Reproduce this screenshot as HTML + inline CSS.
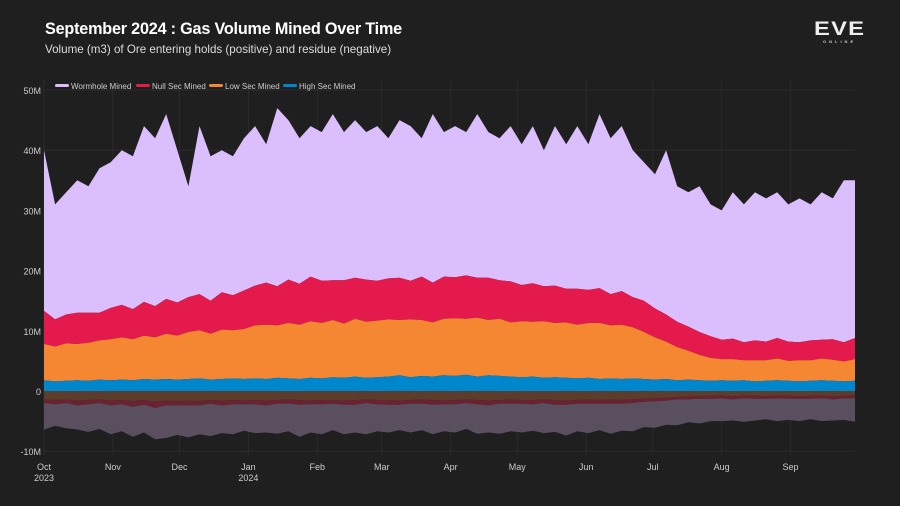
<!DOCTYPE html>
<html><head><meta charset="utf-8"><style>
html,body{margin:0;padding:0;background:#1f1f1f;}
body{width:900px;height:506px;overflow:hidden;font-family:"Liberation Sans",sans-serif;position:relative;}
#title{position:absolute;left:45px;top:20px;color:#fff;font-size:16.2px;font-weight:bold;letter-spacing:-0.2px;}
#sub{position:absolute;left:45px;top:43px;color:#ddd;font-size:11.6px;}
#logo{position:absolute;left:814px;top:19px;color:#eee;font-size:19px;font-weight:bold;letter-spacing:1px;transform:scaleX(1.25);transform-origin:left;}
#logo2{position:absolute;left:823px;top:39px;color:#ccc;font-size:4px;letter-spacing:3px;font-weight:bold;}
svg{position:absolute;left:0;top:0;}
</style></head><body>
<div id="title">September 2024 : Gas Volume Mined Over Time</div>
<div id="sub">Volume (m3) of Ore entering holds (positive) and residue (negative)</div>
<div id="logo">EVE</div>
<div id="logo2">ONLINE</div>
<svg id="chart" width="900" height="506"></svg>
<script>
const highSec=[1.8,1.6,1.7,1.8,1.7,1.9,1.8,1.9,1.8,2.0,1.9,2.0,1.9,2.0,2.1,1.9,2.0,2.1,2.0,2.1,2.0,2.2,2.1,2.0,2.2,2.1,2.3,2.2,2.4,2.2,2.3,2.4,2.6,2.3,2.5,2.4,2.6,2.5,2.7,2.4,2.6,2.5,2.4,2.3,2.4,2.2,2.3,2.2,2.1,2.2,2.0,2.1,2.0,2.1,2.0,1.9,2.0,1.8,1.9,1.8,1.7,1.8,1.7,1.8,1.6,1.7,1.8,1.7,1.6,1.7,1.8,1.7,1.6,1.7];
const lowSec=[6.0,5.8,6.2,6.0,6.3,6.5,6.8,7.0,6.8,7.2,7.0,7.5,7.3,7.8,8.0,7.6,8.2,8.0,8.3,8.8,9.0,8.7,9.2,9.0,9.4,9.2,9.5,9.0,9.6,9.3,9.4,9.5,9.2,9.6,9.3,9.0,9.4,9.6,9.3,9.8,9.2,9.5,9.0,9.3,9.1,9.4,9.0,9.2,8.9,9.1,9.3,8.8,9.0,8.5,7.8,7.0,6.2,5.5,4.8,4.2,3.8,3.5,3.6,3.3,3.5,3.4,3.6,3.3,3.5,3.4,3.6,3.5,3.3,3.6];
const nullSec=[5.5,4.5,4.8,5.2,5.0,4.6,5.2,5.4,5.0,5.6,5.2,5.8,5.5,5.8,6.0,5.5,6.2,5.8,6.4,6.6,7.0,6.5,7.2,6.8,7.4,7.0,6.6,7.2,6.8,7.0,6.6,6.8,7.0,6.4,7.2,6.6,7.0,6.8,7.2,6.6,7.0,6.4,6.8,6.0,6.4,5.8,6.2,5.6,6.0,5.5,5.8,5.2,5.6,5.0,5.2,4.8,4.5,4.2,4.0,3.8,3.6,3.2,3.4,3.0,3.3,3.1,3.4,3.2,3.0,3.3,3.1,3.4,3.2,3.5];
const wormhole=[26.7,19.1,20.3,22.0,21.0,24.0,24.2,25.7,25.4,29.2,27.9,30.7,25.3,18.4,27.9,24.0,23.6,23.1,25.3,26.5,23.0,29.6,26.5,24.2,25.0,24.7,27.6,24.6,26.2,24.5,25.7,23.3,26.2,25.7,23.0,28.0,24.0,25.1,23.8,27.2,24.2,23.6,25.8,23.4,26.1,22.6,26.5,24.0,27.0,24.2,28.9,25.9,27.4,24.4,23.0,22.3,27.3,22.5,22.3,24.2,21.9,21.5,24.3,22.9,24.6,23.8,24.2,22.8,23.9,22.6,24.5,23.4,26.9,26.2];
const resLow=[1.4,1.5,1.4,1.6,1.5,1.4,1.6,1.5,1.7,1.5,1.8,1.6,1.7,1.6,1.7,1.5,1.6,1.5,1.6,1.5,1.6,1.5,1.4,1.5,1.6,1.5,1.5,1.6,1.5,1.4,1.5,1.5,1.6,1.5,1.4,1.5,1.6,1.5,1.4,1.5,1.6,1.5,1.4,1.5,1.5,1.4,1.5,1.6,1.5,1.4,1.5,1.4,1.5,1.4,1.3,1.2,1.1,1.0,0.9,0.9,0.8,0.8,0.9,0.8,0.8,0.9,0.8,0.8,0.9,0.8,0.8,0.9,0.8,0.8];
const resNull=[0.6,0.7,0.6,0.8,0.7,0.6,0.8,0.7,0.9,0.8,1.0,0.8,0.7,0.8,0.7,0.6,0.8,0.7,0.6,0.7,0.8,0.6,0.7,0.8,0.6,0.7,0.6,0.7,0.8,0.6,0.7,0.8,0.7,0.6,0.7,0.8,0.6,0.7,0.6,0.7,0.8,0.6,0.7,0.6,0.7,0.6,0.8,0.7,0.6,0.7,0.6,0.7,0.6,0.6,0.5,0.5,0.5,0.4,0.5,0.4,0.5,0.4,0.5,0.4,0.5,0.4,0.4,0.5,0.4,0.5,0.4,0.5,0.4,0.4];
const resWormhole=[4.4,3.6,4.2,4.0,4.6,4.3,4.8,4.5,5.0,4.6,5.2,5.4,4.9,5.3,4.8,5.4,4.6,5.0,4.4,4.8,4.5,5.0,4.6,5.3,4.7,5.0,4.4,4.9,4.6,5.2,4.5,4.6,4.2,4.8,4.4,4.9,4.5,4.7,4.3,4.9,4.5,5.0,4.6,4.8,4.4,5.0,4.5,5.1,4.6,4.9,4.4,5.0,4.5,4.7,4.2,4.4,4.0,4.3,3.8,4.1,3.7,3.8,3.5,3.9,3.6,3.4,3.8,3.5,3.7,3.4,3.8,3.5,3.6,3.9];
const dayStep=5;
const monthLabels=["Oct","Nov","Dec","Jan","Feb","Mar","Apr","May","Jun","Jul","Aug","Sep"];
const monthDays=[0,31,61,92,123,152,183,213,244,274,305,336];
const yTicks=[-10,0,10,20,30,40,50];

const svg=document.getElementById('chart');
const NS='http://www.w3.org/2000/svg';
const X0=44,X1=855,DAYS=365,Y0=391,PXM=6.02;
const xs=d=>X0+d*(X1-X0)/DAYS;
const ys=v=>Y0-v*PXM;
function mk(t,a){const e=document.createElementNS(NS,t);for(const k in a)e.setAttribute(k,a[k]);svg.appendChild(e);return e;}
monthDays.forEach((d,i)=>{const l=mk('line',{x1:xs(d),x2:xs(d),y1:80,y2:455,stroke:'#2b2b2b','stroke-width':1});

});
yTicks.forEach(v=>{const l=mk('line',{x1:X0,x2:X1,y1:ys(v),y2:ys(v),stroke:'#2b2b2b','stroke-width':1});

});
function band(lower,upper,color,name){
  let d='';
  upper.forEach((v,i)=>{d+=(i?'L':'M')+xs(i*dayStep).toFixed(1)+','+ys(v).toFixed(1);});
  for(let i=lower.length-1;i>=0;i--)d+='L'+xs(i*dayStep).toFixed(1)+','+ys(lower[i]).toFixed(1);
  const p=mk('path',{d:d+'Z',fill:color});
  
  
}
const n=highSec.length, zero=new Array(n).fill(0);
const c1=highSec.map(v=>v), c2=c1.map((v,i)=>v+lowSec[i]), c3=c2.map((v,i)=>v+nullSec[i]), c4=c3.map((v,i)=>v+wormhole[i]);
const r1=resLow.map(v=>-v), r2=r1.map((v,i)=>v-resNull[i]), r3=r2.map((v,i)=>v-resWormhole[i]);
band(c3,c4,'#dbbffc','wormhole-mined-area');
band(c2,c3,'#e31a4b','null-sec-mined-area');
band(c1,c2,'#f58733','low-sec-mined-area');
band(zero,c1,'#0086cc','high-sec-mined-area');
band(r1,zero,'#5c3c2b','low-sec-residue-area');
band(r2,r1,'#6a2132','null-sec-residue-area');
band(r3,r2,'#5a4f5f','wormhole-residue-area');
yTicks.forEach(v=>{const t=mk('text',{x:41,y:ys(v)+4,'text-anchor':'end',fill:'#ccc','font-size':9,'font-family':'Liberation Sans, sans-serif'});


t.textContent=v===0?'0':v+'M';});
monthLabels.forEach((m,i)=>{const t=mk('text',{x:xs(monthDays[i]),y:470,'text-anchor':'middle',fill:'#ccc','font-size':9,'font-family':'Liberation Sans, sans-serif'});


t.textContent=m;});
[['2023',0],['2024',92]].forEach(([y,d])=>{const t=mk('text',{x:xs(d),y:481,'text-anchor':'middle',fill:'#ccc','font-size':9,'font-family':'Liberation Sans, sans-serif'});


t.textContent=y;});
const legNames=['Wormhole Mined','Null Sec Mined','Low Sec Mined','High Sec Mined'];
const legColors=['#dbbffc','#e31a4b','#f58733','#0086cc'];
const legX=[55,136,209,283];
legNames.forEach((nm,i)=>{
  const r=mk('rect',{x:legX[i],y:84,width:14,height:3,rx:1.5,fill:legColors[i]});
  
  
  const t=mk('text',{x:legX[i]+16,y:89,fill:'#ccc','font-size':8,'font-family':'Liberation Sans, sans-serif'});
  
  
  t.textContent=nm;
});
</script>
</body></html>
